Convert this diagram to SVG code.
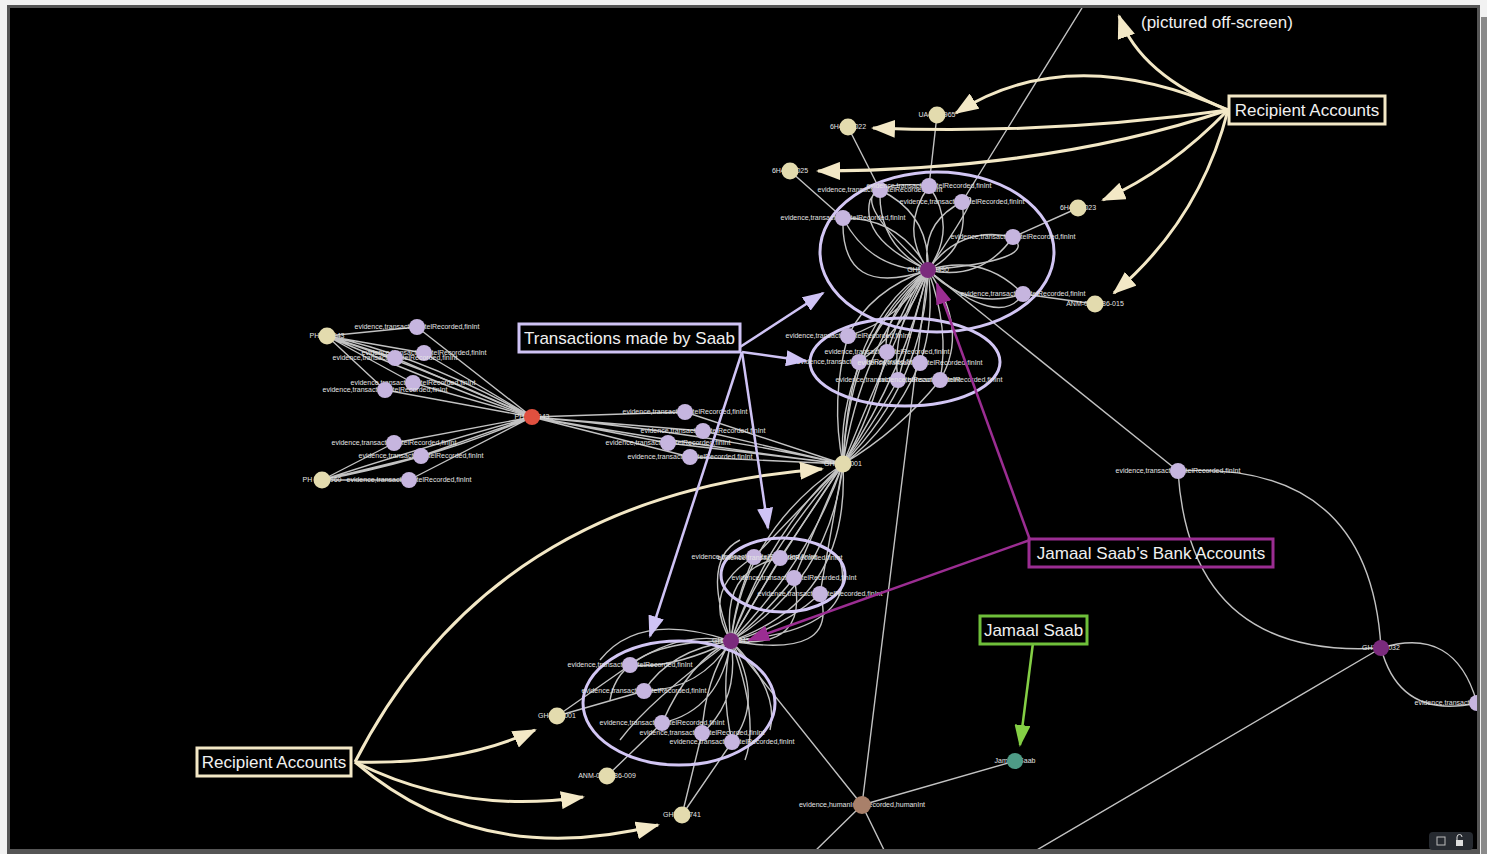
<svg xmlns="http://www.w3.org/2000/svg" width="1487" height="854" viewBox="0 0 1487 854">
<style>
.e{fill:none;stroke:#c2c2c2;stroke-width:1.4}
.lbl{font-family:"Liberation Sans",Arial,sans-serif;font-size:7px;fill:#e4e4e4;text-anchor:middle}
.acc{fill:#e3dbae}.ev{fill:#c6b5df}.own{fill:#7b2b7d}.red{fill:#e0503f}.per{fill:#4e9b86}.hum{fill:#a9806a}
.ann{font-family:"Liberation Sans",Arial,sans-serif;font-size:17px;fill:#f0f0f0}
.cl{fill:none;stroke:#d2c6f4;stroke-width:3}
.ab{fill:none;stroke:#f3e8c6;stroke-width:3}
.al{fill:none;stroke:#cfc3f5;stroke-width:2.5}
.am{fill:none;stroke:#9b2d92;stroke-width:2.5}
.ag{fill:none;stroke:#84cf45;stroke-width:2.5}
</style>
<defs>
<clipPath id="view"><rect x="10" y="8" width="1467" height="841"/></clipPath>
<marker id="hb" markerUnits="userSpaceOnUse" markerWidth="24" markerHeight="18" refX="22" refY="9" orient="auto"><path d="M0,0 L24,9 L0,18 z" fill="#f3e8c6"/></marker>
<marker id="hl" markerUnits="userSpaceOnUse" markerWidth="22" markerHeight="16" refX="20" refY="8" orient="auto"><path d="M0,0 L22,8 L0,16 z" fill="#cfc3f5"/></marker>
<marker id="hm" markerUnits="userSpaceOnUse" markerWidth="22" markerHeight="16" refX="20" refY="8" orient="auto"><path d="M0,0 L22,8 L0,16 z" fill="#9b2d92"/></marker>
<marker id="hg" markerUnits="userSpaceOnUse" markerWidth="22" markerHeight="16" refX="20" refY="8" orient="auto"><path d="M0,0 L22,8 L0,16 z" fill="#84cf45"/></marker>
</defs>
<rect x="0" y="0" width="1487" height="854" fill="#f2f2f2"/>
<rect x="1481" y="17" width="6" height="837" fill="#8a8a8a"/>
<rect x="7" y="5" width="1473" height="849" fill="#555"/>
<rect x="10" y="8" width="1467" height="841" fill="#000"/>
<g clip-path="url(#view)">
<g id="connectors">
<path class="e" d="M848,127 L880,190 M937,115 L929,186 M790,171 L843,218 M1078,208 L1013,237 M1095,304 L1023,294 M1082,8 L962,202"/>
<path class="e" d="M928,270 Q930,214 880,190 M928,270 Q878,246 880,190 M928,270 Q958,228 929,186 M928,270 Q899,228 929,186 M928,270 Q970,249 962,202 M928,270 Q920,223 962,202 M928,270 Q901,218 843,218 M928,270 Q870,270 843,218 M928,270 Q981,282 1013,237 M928,270 Q960,225 1013,237 M928,270 Q968,311 1023,294 M928,270 Q983,253 1023,294"/>
<path class="e" d="M928,270 Q840,300 843,218 M928,270 Q850,200 880,190 M928,270 Q990,180 962,202 M928,270 Q1040,260 1013,237 M928,270 Q1000,330 1023,294 M928,270 Q860,240 870,200 Q880,180 929,186"/>
<path class="e" d="M928,270 Q870,290 848,336 M928,270 Q905,300 887,352 M928,270 Q880,300 859,362 M928,270 Q935,320 920,363 M928,270 Q915,320 898,380 M928,270 Q950,330 940,380 M928,270 Q900,320 848,336 M928,270 Q905,330 859,362 M928,270 Q890,330 898,380 M928,270 Q880,320 887,352 M928,270 Q970,330 940,380"/>
<path class="e" d="M848,336 Q830,400 843,464 M887,352 Q870,420 843,464 M859,362 Q845,410 843,464 M920,363 Q890,430 843,464 M898,380 Q870,430 843,464 M940,380 Q900,430 843,464"/>
<path class="e" d="M843,464 Q860,350 928,270 M843,464 Q885,360 928,270 M843,464 Q905,370 928,270 M843,464 Q850,330 928,270 M843,464 Q925,380 928,270 M843,464 Q835,360 928,270"/>
<path class="e" d="M928,270 L1178,471"/>
<path class="e" d="M327,336 L417,327 M327,336 L424,353 M327,336 L395,358 M327,336 L413,383 M327,336 L385,390 M327,336 Q430,370 532,417 M327,336 Q440,385 532,417 M327,336 Q420,355 532,417"/>
<path class="e" d="M532,417 L417,327 M532,417 L424,353 M532,417 L395,358 M532,417 L413,383 M532,417 L385,390"/>
<path class="e" d="M322,480 L394,443 M322,480 L421,456 M322,480 L409,480 M322,480 Q430,445 532,417 M322,480 Q430,460 532,417 M532,417 L394,443 M532,417 L421,456 M532,417 L409,480"/>
<path class="e" d="M532,417 L685,412 M532,417 L703,431 M532,417 L668,443 M532,417 L690,457 M685,412 L843,464 M703,431 L843,464 M668,443 L843,464 M690,457 L843,464 M532,417 Q690,430 843,464 M532,417 Q690,445 843,464"/>
<path class="e" d="M843,464 L754,557 M843,464 L780,558 M843,464 L794,578 M843,464 L820,594 M754,557 Q735,600 731,641 M780,558 Q750,610 731,641 M794,578 Q760,620 731,641 M820,594 Q780,630 731,641"/>
<path class="e" d="M843,464 Q790,540 731,641 M843,464 Q770,530 731,641 M843,464 Q810,560 731,641 M843,464 Q760,560 731,641 M843,464 Q830,580 731,641 M843,464 Q745,530 731,641 M843,464 Q850,600 731,641"/>
<path class="e" d="M731,641 Q840,660 820,594 M731,641 Q810,650 794,578 M731,641 Q700,590 754,557 M731,641 Q720,570 780,558 M731,641 Q860,630 840,560 M731,641 Q700,560 740,540"/>
<path class="e" d="M731,641 Q680,630 630,665 M731,641 Q670,670 630,665 M731,641 Q670,650 644,691 M731,641 Q700,690 644,691 M731,641 Q690,660 662,723 M731,641 Q720,710 662,723 M731,641 Q705,680 702,733 M731,641 Q740,700 702,733 M731,641 Q720,690 732,742 M731,641 Q765,700 732,742"/>
<path class="e" d="M731,641 Q640,610 600,660 M731,641 Q620,640 610,700 M731,641 Q650,700 620,740 M731,641 Q760,720 745,760 M731,641 Q780,690 770,730"/>
<path class="e" d="M630,665 L557,716 M644,691 L557,716 M662,723 L607,776 M702,733 L682,815 M732,742 L682,815"/>
<path class="e" d="M1178,471 Q1190,660 1381,648 M1178,471 Q1370,460 1381,648 M1381,648 Q1455,625 1477,703 M1381,648 Q1400,720 1477,703 M1381,648 L1030,854"/>
<path class="e" d="M928,270 L862,805 M731,641 L862,805 M862,805 L1015,761 M862,805 L812,854 M862,805 L886,854"/>
</g>
<g id="clusters">
<ellipse class="cl" cx="937" cy="252" rx="117" ry="80"/>
<ellipse class="cl" cx="905" cy="362" rx="95" ry="44"/>
<ellipse class="cl" cx="783" cy="575" rx="62" ry="37"/>
<ellipse class="cl" cx="679" cy="703" rx="96" ry="62"/>
</g>
<g id="nodes">
<g id="n-ua"><text class="lbl" x="937" y="117">UA4973965</text><circle class="acc" cx="937" cy="115" r="8.5"/></g>
<g id="n-6h22"><text class="lbl" x="848" y="129">6H4800022</text><circle class="acc" cx="848" cy="127" r="8.5"/></g>
<g id="n-6h25"><text class="lbl" x="790" y="173">6H4800025</text><circle class="acc" cx="790" cy="171" r="8.5"/></g>
<g id="n-6h23"><text class="lbl" x="1078" y="210">6H4800023</text><circle class="acc" cx="1078" cy="208" r="8.5"/></g>
<g id="n-anm15"><text class="lbl" x="1095" y="306">ANM-000-986-015</text><circle class="acc" cx="1095" cy="304" r="8.5"/></g>
<g id="n-e1"><text class="lbl" x="880" y="192">evidence,transactionIntelRecorded,finInt</text><circle class="ev" cx="880" cy="190" r="8"/></g>
<g id="n-e2"><text class="lbl" x="929" y="188">evidence,transactionIntelRecorded,finInt</text><circle class="ev" cx="929" cy="186" r="8"/></g>
<g id="n-e3"><text class="lbl" x="962" y="204">evidence,transactionIntelRecorded,finInt</text><circle class="ev" cx="962" cy="202" r="8"/></g>
<g id="n-e4"><text class="lbl" x="843" y="220">evidence,transactionIntelRecorded,finInt</text><circle class="ev" cx="843" cy="218" r="8"/></g>
<g id="n-e5"><text class="lbl" x="1013" y="239">evidence,transactionIntelRecorded,finInt</text><circle class="ev" cx="1013" cy="237" r="8"/></g>
<g id="n-e6"><text class="lbl" x="1023" y="296">evidence,transactionIntelRecorded,finInt</text><circle class="ev" cx="1023" cy="294" r="8"/></g>
<g id="n-h1"><text class="lbl" x="928" y="272">GH58670490</text><circle class="own" cx="928" cy="270" r="8"/></g>
<g id="n-f1"><text class="lbl" x="848" y="338">evidence,transactionIntelRecorded,finInt</text><circle class="ev" cx="848" cy="336" r="8"/></g>
<g id="n-f2"><text class="lbl" x="887" y="354">evidence,transactionIntelRecorded,finInt</text><circle class="ev" cx="887" cy="352" r="8"/></g>
<g id="n-f3"><text class="lbl" x="859" y="364">evidence,transactionIntelRecorded,finInt</text><circle class="ev" cx="859" cy="362" r="8"/></g>
<g id="n-f4"><text class="lbl" x="920" y="365">evidence,transactionIntelRecorded,finInt</text><circle class="ev" cx="920" cy="363" r="8"/></g>
<g id="n-f5"><text class="lbl" x="898" y="382">evidence,transactionIntelRecorded,finInt</text><circle class="ev" cx="898" cy="380" r="8"/></g>
<g id="n-f6"><text class="lbl" x="940" y="382">evidence,transactionIntelRecorded,finInt</text><circle class="ev" cx="940" cy="380" r="8"/></g>
<g id="n-ph1"><text class="lbl" x="327" y="338">PH 785043</text><circle class="acc" cx="327" cy="336" r="8.5"/></g>
<g id="n-l1"><text class="lbl" x="417" y="329">evidence,transactionIntelRecorded,finInt</text><circle class="ev" cx="417" cy="327" r="8"/></g>
<g id="n-l2"><text class="lbl" x="424" y="355">evidence,transactionIntelRecorded,finInt</text><circle class="ev" cx="424" cy="353" r="8"/></g>
<g id="n-l3"><text class="lbl" x="395" y="360">evidence,transactionIntelRecorded,finInt</text><circle class="ev" cx="395" cy="358" r="8"/></g>
<g id="n-l4"><text class="lbl" x="413" y="385">evidence,transactionIntelRecorded,finInt</text><circle class="ev" cx="413" cy="383" r="8"/></g>
<g id="n-l5"><text class="lbl" x="385" y="392">evidence,transactionIntelRecorded,finInt</text><circle class="ev" cx="385" cy="390" r="8"/></g>
<g id="n-red"><text class="lbl" x="532" y="419">PH 785943</text><circle class="red" cx="532" cy="417" r="8"/></g>
<g id="n-l6"><text class="lbl" x="394" y="445">evidence,transactionIntelRecorded,finInt</text><circle class="ev" cx="394" cy="443" r="8"/></g>
<g id="n-l7"><text class="lbl" x="421" y="458">evidence,transactionIntelRecorded,finInt</text><circle class="ev" cx="421" cy="456" r="8"/></g>
<g id="n-ph2"><text class="lbl" x="322" y="482">PH 2785960</text><circle class="acc" cx="322" cy="480" r="8.5"/></g>
<g id="n-l8"><text class="lbl" x="409" y="482">evidence,transactionIntelRecorded,finInt</text><circle class="ev" cx="409" cy="480" r="8"/></g>
<g id="n-m1"><text class="lbl" x="685" y="414">evidence,transactionIntelRecorded,finInt</text><circle class="ev" cx="685" cy="412" r="8"/></g>
<g id="n-m2"><text class="lbl" x="703" y="433">evidence,transactionIntelRecorded,finInt</text><circle class="ev" cx="703" cy="431" r="8"/></g>
<g id="n-m3"><text class="lbl" x="668" y="445">evidence,transactionIntelRecorded,finInt</text><circle class="ev" cx="668" cy="443" r="8"/></g>
<g id="n-m4"><text class="lbl" x="690" y="459">evidence,transactionIntelRecorded,finInt</text><circle class="ev" cx="690" cy="457" r="8"/></g>
<g id="n-g1"><text class="lbl" x="843" y="466">GH5800001</text><circle class="acc" cx="843" cy="464" r="8.5"/></g>
<g id="n-b1"><text class="lbl" x="754" y="559">evidence,transactionIntelRecorded,finInt</text><circle class="ev" cx="754" cy="557" r="8"/></g>
<g id="n-b2"><text class="lbl" x="780" y="560">evidence,transactionIntelRecorded,finInt</text><circle class="ev" cx="780" cy="558" r="8"/></g>
<g id="n-b3"><text class="lbl" x="794" y="580">evidence,transactionIntelRecorded,finInt</text><circle class="ev" cx="794" cy="578" r="8"/></g>
<g id="n-b4"><text class="lbl" x="820" y="596">evidence,transactionIntelRecorded,finInt</text><circle class="ev" cx="820" cy="594" r="8"/></g>
<g id="n-h2"><text class="lbl" x="731" y="643">GH3469845</text><circle class="own" cx="731" cy="641" r="8"/></g>
<g id="n-c1"><text class="lbl" x="630" y="667">evidence,transactionIntelRecorded,finInt</text><circle class="ev" cx="630" cy="665" r="8"/></g>
<g id="n-c2"><text class="lbl" x="644" y="693">evidence,transactionIntelRecorded,finInt</text><circle class="ev" cx="644" cy="691" r="8"/></g>
<g id="n-c3"><text class="lbl" x="662" y="725">evidence,transactionIntelRecorded,finInt</text><circle class="ev" cx="662" cy="723" r="8"/></g>
<g id="n-c4"><text class="lbl" x="702" y="735">evidence,transactionIntelRecorded,finInt</text><circle class="ev" cx="702" cy="733" r="8"/></g>
<g id="n-c5"><text class="lbl" x="732" y="744">evidence,transactionIntelRecorded,finInt</text><circle class="ev" cx="732" cy="742" r="8"/></g>
<g id="n-gha"><text class="lbl" x="557" y="718">GH4800001</text><circle class="acc" cx="557" cy="716" r="8.5"/></g>
<g id="n-anm9"><text class="lbl" x="607" y="778">ANM-000-986-009</text><circle class="acc" cx="607" cy="776" r="8.5"/></g>
<g id="n-gh741"><text class="lbl" x="682" y="817">GH7900741</text><circle class="acc" cx="682" cy="815" r="8.5"/></g>
<g id="n-x1"><text class="lbl" x="1178" y="473">evidence,transactionIntelRecorded,finInt</text><circle class="ev" cx="1178" cy="471" r="8"/></g>
<g id="n-h3"><text class="lbl" x="1381" y="650">GH7005032</text><circle class="own" cx="1381" cy="648" r="8"/></g>
<g id="n-x2"><text class="lbl" x="1477" y="705">evidence,transactionIntelRecorded,finInt</text><circle class="ev" cx="1477" cy="703" r="8"/></g>
<g id="n-hum"><text class="lbl" x="862" y="807">evidence,humanIntelRecorded,humanInt</text><circle class="hum" cx="862" cy="805" r="9"/></g>
<g id="n-saab"><text class="lbl" x="1015" y="763">Jamaal Saab</text><circle class="per" cx="1015" cy="761" r="8"/></g>
</g>
</g>
<g id="annotation-arrows">
<path class="ab" marker-end="url(#hb)" d="M1228,110 Q1140,75 1119,16"/>
<path class="ab" marker-end="url(#hb)" d="M1228,110 Q1070,40 956,113"/>
<path class="ab" marker-end="url(#hb)" d="M1228,110 Q1050,135 873,128"/>
<path class="ab" marker-end="url(#hb)" d="M1228,110 Q1050,170 818,171"/>
<path class="ab" marker-end="url(#hb)" d="M1228,110 Q1170,170 1103,200"/>
<path class="ab" marker-end="url(#hb)" d="M1228,110 Q1200,220 1114,293"/>
<path class="ab" marker-end="url(#hb)" d="M355,762 Q492,494 822,469"/>
<path class="ab" marker-end="url(#hb)" d="M355,762 Q460,765 535,730"/>
<path class="ab" marker-end="url(#hb)" d="M355,762 Q460,815 583,797"/>
<path class="ab" marker-end="url(#hb)" d="M355,762 Q480,870 658,825"/>
<path class="al" marker-end="url(#hl)" d="M740,347 L823,293"/>
<path class="al" marker-end="url(#hl)" d="M742,352 L806,361"/>
<path class="al" marker-end="url(#hl)" d="M742,352 L768,528"/>
<path class="al" marker-end="url(#hl)" d="M742,352 L650,636"/>
<path class="am" marker-end="url(#hm)" d="M1030,540 L937,284"/>
<path class="am" marker-end="url(#hm)" d="M1030,540 L749,640"/>
<path class="ag" marker-end="url(#hg)" d="M1033,643 L1020,745"/>
</g>
<g id="label-offscreen"><text class="ann" x="1141" y="28">(pictured off-screen)</text></g>
<g id="label-recipient-top"><rect x="1229" y="96" width="156" height="28" fill="#000" stroke="#f3e8c6" stroke-width="3"/><text class="ann" x="1307" y="116" text-anchor="middle">Recipient Accounts</text></g>
<g id="label-transactions"><rect x="519" y="324" width="221" height="28" fill="#000" stroke="#cfc3f5" stroke-width="3"/><text class="ann" x="629.5" y="344" text-anchor="middle">Transactions made by Saab</text></g>
<g id="label-bank"><rect x="1029" y="539" width="244" height="28" fill="none" stroke="#9b2d92" stroke-width="3"/><text class="ann" x="1151" y="559" text-anchor="middle">Jamaal Saab’s Bank Accounts</text></g>
<g id="label-saab"><rect x="980" y="616" width="107" height="28" fill="#000" stroke="#6fbf3a" stroke-width="3"/><text class="ann" x="1033.5" y="636" text-anchor="middle">Jamaal Saab</text></g>
<g id="label-recipient-bottom"><rect x="197" y="748" width="154" height="28" fill="#000" stroke="#f3e8c6" stroke-width="3"/><text class="ann" x="274" y="768" text-anchor="middle">Recipient Accounts</text></g>
<g id="controls"><rect x="1429" y="832" width="44" height="18" rx="4" fill="#262a30"/><rect x="1437" y="837" width="8" height="8" fill="none" stroke="#bbb" stroke-width="1"/><rect x="1456" y="840" width="7" height="6" fill="#ddd"/><path d="M1457,840 v-3 a2.5,2.5 0 0 1 5,0" fill="none" stroke="#ddd" stroke-width="1"/></g>
</svg>
